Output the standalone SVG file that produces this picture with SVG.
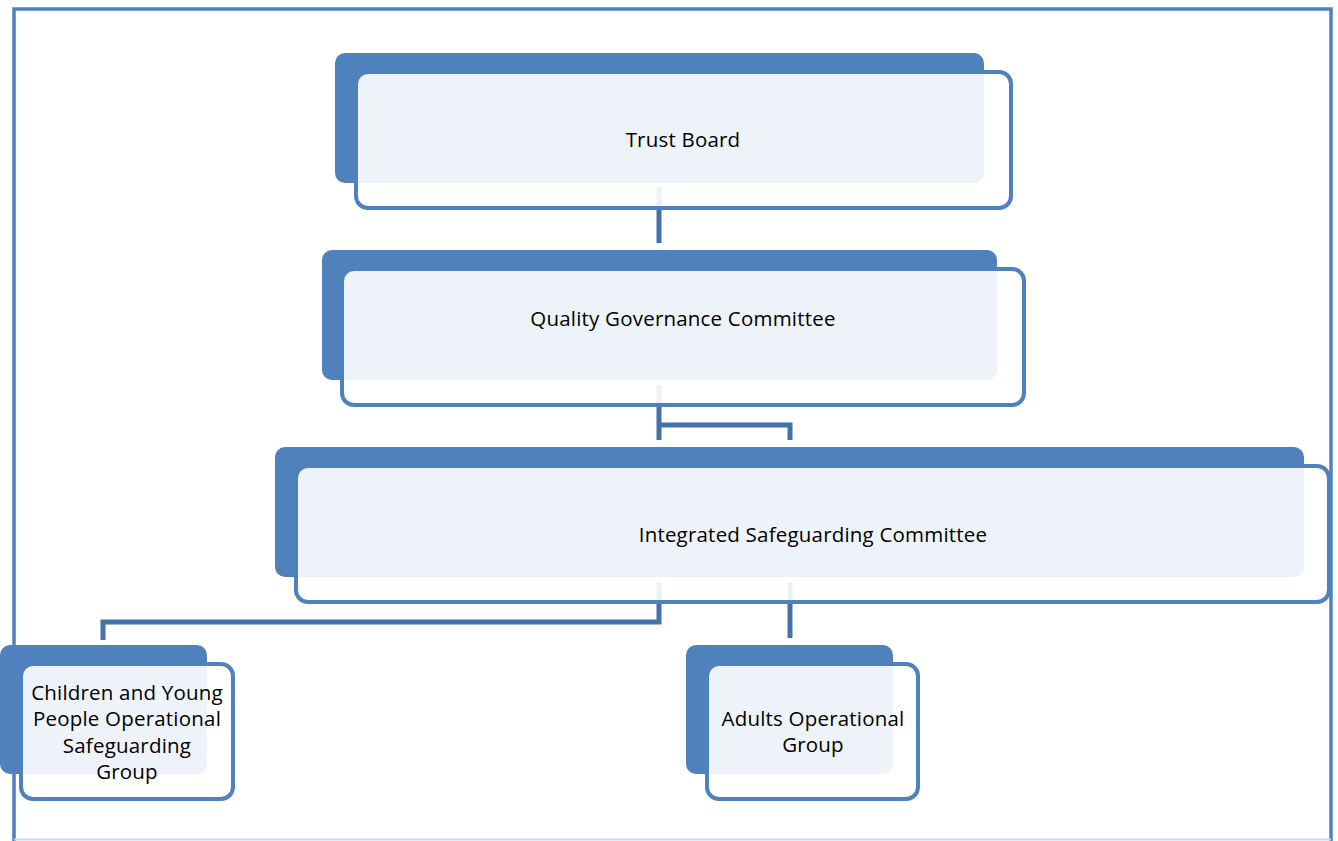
<svg xmlns="http://www.w3.org/2000/svg" width="1338" height="841" viewBox="0 0 1338 841">
<style>
.back{fill:#4F81BD;}
.front{fill:#FFFFFF;fill-opacity:0.9;stroke:#4F81BD;stroke-width:4;}
.conn{stroke:#4372AA;stroke-width:5;fill:none;}
text{font-family:"Open Sans","Noto Sans","Liberation Sans",sans-serif;font-size:20.5px;letter-spacing:0.2px;fill:#000;text-anchor:middle;}
</style>
<rect width="1338" height="841" fill="#FFFFFF"/>
<g id="frame">
<path d="M14,841 V9 H1331 V841" fill="none" stroke="#4F81BD" stroke-width="3.5"/>
<line x1="14" y1="839.5" x2="1331" y2="839.5" stroke="#C6D9F1" stroke-width="2"/>
</g>
<g id="connectors">
<path class="conn" d="M659,187 V243"/>
<path class="conn" d="M659,385 V440 M659,425 H790 V440"/>
<path class="conn" d="M659,582 V622 H103 V640"/>
<path class="conn" d="M790,582 V638"/>
</g>
<g id="trust-board">
<rect class="back" x="335" y="53" width="649" height="130" rx="10"/>
<rect class="front" x="356" y="72" width="655" height="136" rx="12"/>
<text x="683" y="147">Trust Board</text>
</g>
<g id="quality-governance">
<rect class="back" x="322" y="250" width="675" height="130" rx="10"/>
<rect class="front" x="342" y="269" width="682" height="136" rx="12"/>
<text x="683" y="326">Quality Governance Committee</text>
</g>
<g id="integrated-safeguarding">
<rect class="back" x="275" y="447" width="1029" height="130" rx="10"/>
<rect class="front" x="296" y="466" width="1033" height="136" rx="12"/>
<text x="813" y="542">Integrated Safeguarding Committee</text>
</g>
<g id="children-young-people">
<rect class="back" x="0" y="645" width="207" height="129" rx="10"/>
<rect class="front" x="21" y="664" width="212" height="135" rx="12"/>
<text x="127" y="700">Children and Young</text>
<text x="127" y="726">People Operational</text>
<text x="127" y="753">Safeguarding</text>
<text x="127" y="779">Group</text>
</g>
<g id="adults-operational">
<rect class="back" x="686" y="645" width="207" height="129" rx="10"/>
<rect class="front" x="707" y="664" width="211" height="135" rx="12"/>
<text x="813" y="726">Adults Operational</text>
<text x="813" y="752">Group</text>
</g>
</svg>
